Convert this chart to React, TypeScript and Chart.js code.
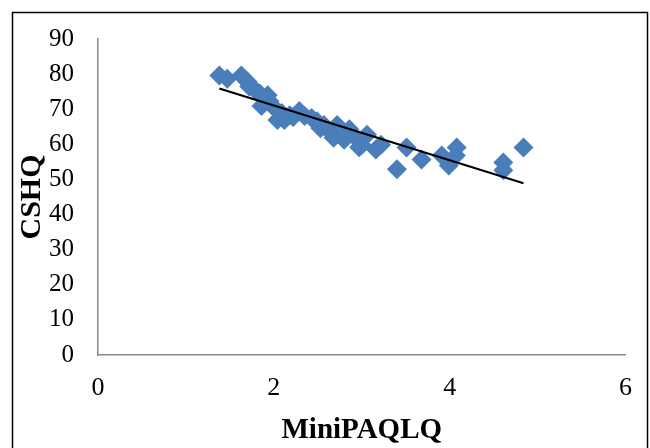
import React, { useEffect, useRef } from "react";
import { Chart, registerables } from "chart.js";

Chart.register(...registerables);

const miniPaqlq = [1.38, 1.47, 1.63, 1.7, 1.72, 1.78, 1.84, 1.88, 1.86, 1.93, 1.95, 2.01, 2.04, 2.09, 2.12, 2.18, 2.22, 2.29, 2.35, 2.43, 2.49, 2.53, 2.57, 2.63, 2.68, 2.72, 2.77, 2.8, 2.86, 2.91, 2.97, 3.0, 3.06, 3.16, 3.22, 3.4, 3.51, 3.68, 3.91, 3.99, 4.07, 4.08, 4.61, 4.61, 4.84];
const cshq = [79.6, 78.7, 79.6, 77.9, 76.5, 75.6, 74.5, 73.1, 70.9, 74.0, 72.3, 70.3, 66.9, 68.9, 66.9, 68.3, 67.8, 69.5, 68.1, 67.5, 66.6, 64.6, 65.5, 63.8, 61.9, 65.5, 63.3, 61.3, 64.3, 62.4, 59.2, 59.8, 62.7, 58.5, 59.9, 52.9, 59.1, 55.7, 56.8, 54.0, 56.8, 59.1, 54.8, 52.6, 59.1];
const trendX = [1.38, 4.84];
const trendY = [75.9, 48.9];
const xTicks = [0, 2, 4, 6];
const yTicks = [0, 10, 20, 30, 40, 50, 60, 70, 80, 90];

const FONT = "'Liberation Serif', 'Times New Roman', serif";

const borderPlugin = {
  id: "outerBorder",
  afterDraw(chart: any) {
    const ctx = chart.ctx;
    ctx.save();
    ctx.strokeStyle = "#000";
    ctx.lineWidth = 1.5;
    ctx.strokeRect(12.5, 12.5, 635, 500);
    ctx.restore();
  },
};

export default function App() {
  const ref = useRef<HTMLCanvasElement | null>(null);
  useEffect(() => {
    if (!ref.current) return;
    const chart = new Chart(ref.current, {
      type: "scatter",
      data: {
        datasets: [
          {
            type: "line",
            label: "Trend",
            data: trendX.map((x, i) => ({ x, y: trendY[i] })),
            borderColor: "#000",
            borderWidth: 2,
            pointRadius: 0,
            fill: false,
          } as any,
          {
            label: "CSHQ",
            data: miniPaqlq.map((x, i) => ({ x, y: cshq[i] })),
            pointStyle: "rectRot",
            pointRadius: 10,
            pointHoverRadius: 10,
            backgroundColor: "#4a7ebb",
            borderColor: "#4a7ebb",
            borderWidth: 0,
          },
        ],
      },
      options: {
        animation: false,
        responsive: false,
        maintainAspectRatio: false,
        layout: { padding: { left: 14, top: 36, right: 21, bottom: 0 } },
        plugins: { legend: { display: false }, tooltip: { enabled: false } },
        scales: {
          x: {
            type: "linear",
            min: 0,
            max: 6,
            afterBuildTicks: (s: any) => {
              s.ticks = xTicks.map((v) => ({ value: v }));
            },
            afterFit: (s: any) => {
              s.height = 93;
            },
            grid: { display: false, drawTicks: false },
            border: { display: true, color: "#8a8a8a", width: 1.5 },
            ticks: { padding: 18, color: "#000", font: { family: FONT, size: 26 } },
            title: {
              display: true,
              text: "MiniPAQLQ",
              color: "#000",
              padding: { top: 0, bottom: 0 },
              font: { family: FONT, size: 29, weight: "bold" },
            },
          },
          y: {
            type: "linear",
            min: 0,
            max: 90,
            afterBuildTicks: (s: any) => {
              s.ticks = yTicks.map((v) => ({ value: v }));
            },
            afterFit: (s: any) => {
              s.width = 84;
            },
            grid: { display: false, drawTicks: false },
            border: { display: true, color: "#8a8a8a", width: 1.5 },
            ticks: { padding: 24, color: "#000", font: { family: FONT, size: 25 } },
            title: {
              display: true,
              text: "CSHQ",
              color: "#000",
              padding: { top: 0, bottom: 0 },
              font: { family: FONT, size: 30, weight: "bold" },
            },
          },
        },
      },
      plugins: [borderPlugin],
    });
    return () => chart.destroy();
  }, []);
  return (
    <div style={{ position: "absolute", left: 0, top: 0, width: 650, height: 448, background: "#fff" }}>
      <canvas ref={ref} width={650} height={448} style={{ display: "block", width: 650, height: 448 }} />
    </div>
  );
}
